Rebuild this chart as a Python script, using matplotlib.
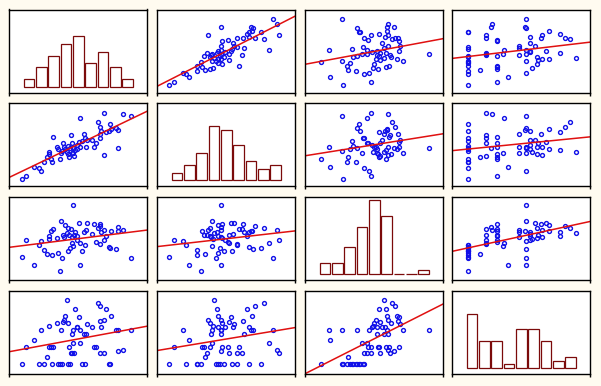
import matplotlib
matplotlib.use("Agg")
import matplotlib.pyplot as plt
import numpy as np

# os 4 valores (escala 0-100)
var1 = [9.2, 12.3, 18.4, 21.8, 23.2, 25.7, 27.4, 28.8, 29.3, 30.3, 31.5, 31.7, 34.6, 35.8, 37.3, 37.8,
        38.5, 39.0, 40.0, 40.9, 41.9, 42.9, 43.1, 43.6, 44.3, 44.8, 45.5, 45.8, 46.2, 46.7, 47.2, 47.7,
        49.2, 49.6, 50.6, 51.1, 51.6, 52.8, 54.0, 55.0, 55.9, 56.4, 60.0, 61.7, 63.0, 64.4, 65.6, 65.9,
        66.1, 66.6, 68.8, 69.0, 70.5, 72.4, 72.9, 73.6, 77.7, 78.7, 79.2, 82.6, 88.6]
var2 = [8.9, 12.1, 23.1, 21.1, 18.6, 29.1, 34.8, 38.1, 40.5, 32.4, 29.1, 59.5, 47.4, 44.1, 32.0, 40.1,
        42.5, 52.2, 46.6, 44.1, 41.3, 38.5, 48.2, 34.4, 45.3, 61.9, 39.3, 52.2, 40.1, 46.2, 36.0, 43.3,
        49.4, 44.5, 53.4, 81.4, 46.6, 54.3, 62.8, 58.3, 46.6, 55.9, 55.1, 47.4, 51.4, 77.7, 71.3, 58.3,
        62.3, 66.8, 37.2, 88.3, 65.2, 66.8, 75.3, 68.8, 69.6, 46.2, 68.0, 87.0, 83.8]
var3 = [27.8, 47.9, 17.9, 42.4, 46.7, 36.6, 30.8, 52.8, 49.6, 58.8, 30.3, 61.0, 50.1, 32.7, 11.4, 70.9,
        27.1, 54.5, 51.8, 66.6, 56.9, 62.2, 35.1, 53.8, 38.0, 61.7, 52.1, 44.8, 41.4, 90.1, 54.5, 58.4,
        48.7, 52.5, 68.3, 45.0, 17.7, 34.4, 57.6, 41.9, 60.5, 68.5, 55.7, 68.0, 46.0, 63.2, 64.9, 43.1,
        67.3, 58.1, 59.8, 47.7, 53.5, 39.7, 39.0, 59.1, 37.5, 64.2, 59.6, 60.3, 26.9]
var4 = [11.5, 32.8, 40.7, 11.5, 53.4, 11.5, 20.2, 32.8, 58.1, 32.8, 11.5, 32.8, 61.3, 11.5, 11.5, 53.4,
        11.5, 62.1, 65.2, 70.0, 89.7, 61.3, 11.5, 32.8, 11.5, 24.9, 48.6, 24.9, 36.8, 53.4, 24.9, 77.9,
        56.5, 56.5, 68.4, 37.5, 53.4, 11.5, 48.6, 11.5, 48.6, 60.0, 56.5, 32.8, 32.8, 85.8, 81.8, 24.9,
        64.4, 56.5, 65.2, 24.9, 77.9, 11.5, 11.5, 70.0, 53.4, 28.1, 52.6, 28.9, 53.4]

# contagens dos histogramas da diagonal
hist1 = [2, 5, 8, 11, 13, 6, 9, 5, 2]
hist2 = [2, 4, 7, 14, 13, 9, 5, 3, 4]
hist3 = [3, 3, 7, 12, 19, 15, 0, 0, 1]
hist4 = [14, 7, 7, 1, 10, 10, 7, 2, 3]

dados = [var1, var2, var3, var4]
hists = [hist1, hist2, hist3, hist4]

fundo = "#FFFBF0"
fig = plt.figure(figsize=(6.01, 3.86), dpi=100, facecolor=fundo)

W, H = 601.0, 386.0
lefts = [9, 157, 305, 452]
tops = [9.5, 103, 197, 291]
larg, alt = 138, 83

for i in range(4):
    for j in range(4):
        ax = fig.add_axes([lefts[j] / W, 1 - (tops[i] + alt) / H, larg / W, alt / H])
        ax.set_facecolor("white")
        for s in ax.spines.values():
            s.set_linewidth(1.0)
            s.set_color("black")
        if i == j:
            # histograma
            pos = np.arange(len(hists[i]))
            ax.bar(pos, hists[i], width=0.86, facecolor="white",
                   edgecolor="#7B0A0A", linewidth=0.9)
            ax.set_xlim(-1.62, 9.58)
            ax.set_ylim(-1.45, 19.8)
        else:
            # dispersao + reta de regressao
            x = np.array(dados[j])
            y = np.array(dados[i])
            ax.plot(x, y, "o", markerfacecolor="none", markeredgecolor="#1010E8",
                    markersize=2.8, markeredgewidth=1.0)
            a, b = np.polyfit(x, y, 1)
            xs = np.array([0, 100])
            ax.plot(xs, a * xs + b, color="#E01010", lw=1.1)
            ax.set_xlim(0, 100)
            ax.set_ylim(0, 100)
        xl = ax.get_xlim()
        ax.set_xticks(list(xl))
        ax.set_xticklabels([])
        ax.set_yticks([])
        ax.tick_params(axis="x", length=2.5, width=1, direction="out")

plt.savefig("out.png", dpi=100, facecolor=fundo)
